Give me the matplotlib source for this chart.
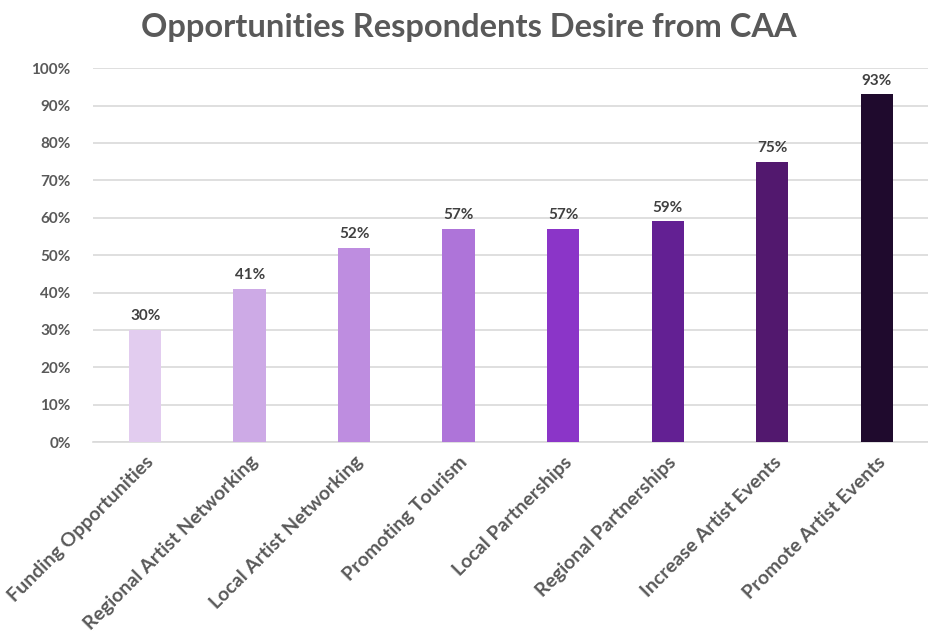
import matplotlib.pyplot as plt
from matplotlib.ticker import FuncFormatter, MultipleLocator

categories = ["Funding Opportunities", "Regional Artist Networking", "Local Artist Networking",
              "Promoting Tourism", "Local Partnerships", "Regional Partnerships",
              "Increase Artist Events", "Promote Artist Events"]
shares = [0.30, 0.41, 0.52, 0.57, 0.57, 0.59, 0.75, 0.93]
colors = ["#E2CCEF", "#CDAAE6", "#BE8DE0", "#AE74D9", "#8B35C8", "#632093", "#52186E", "#1F0A2D"]

plt.rcParams['font.family'] = ['Lato', 'DejaVu Sans']

fig = plt.figure(figsize=(9.29, 6.37), dpi=100)
ax = fig.add_axes([0.100, 0.306, 0.900, 0.587])

x = range(len(categories))
bars = ax.bar(x, shares, width=0.31, color=colors, zorder=3)

# value labels above each bar
for b, v in zip(bars, shares):
	ax.text(b.get_x() + b.get_width() / 2, v + 0.018, "{:.0%}".format(v),
			ha="center", va="bottom", fontsize=11, fontweight="bold", color="#404040")

ax.set_xlim(-0.5, len(categories) - 0.5)
ax.set_ylim(0, 1.0)
ax.yaxis.set_major_locator(MultipleLocator(0.1))
ax.yaxis.set_major_formatter(FuncFormatter(lambda v, p: "{:.0%}".format(v)))
ax.yaxis.grid(True, color="#D9D9D9", linewidth=1.2, zorder=0)

for s in ["top", "right", "left"]:
	ax.spines[s].set_visible(False)
ax.spines["bottom"].set_color("#D9D9D9")
ax.spines["bottom"].set_linewidth(1.2)

ax.tick_params(axis="both", length=0, colors="#595959")
ax.tick_params(axis="y", pad=16, labelsize=11)
ax.set_xticks(list(x))
ax.set_xticklabels(categories, rotation=45, ha="right", rotation_mode="anchor",
				   fontsize=14, fontweight="bold", color="#595959")
for lbl in ax.get_yticklabels():
	lbl.set_fontweight("bold")
ax.tick_params(axis="x", pad=8)

fig.suptitle("Opportunities Respondents Desire from CAA", x=0.505, y=0.98,
			 fontsize=23.5, fontweight="bold", color="#595959")

fig.savefig("out.png", dpi=100)
